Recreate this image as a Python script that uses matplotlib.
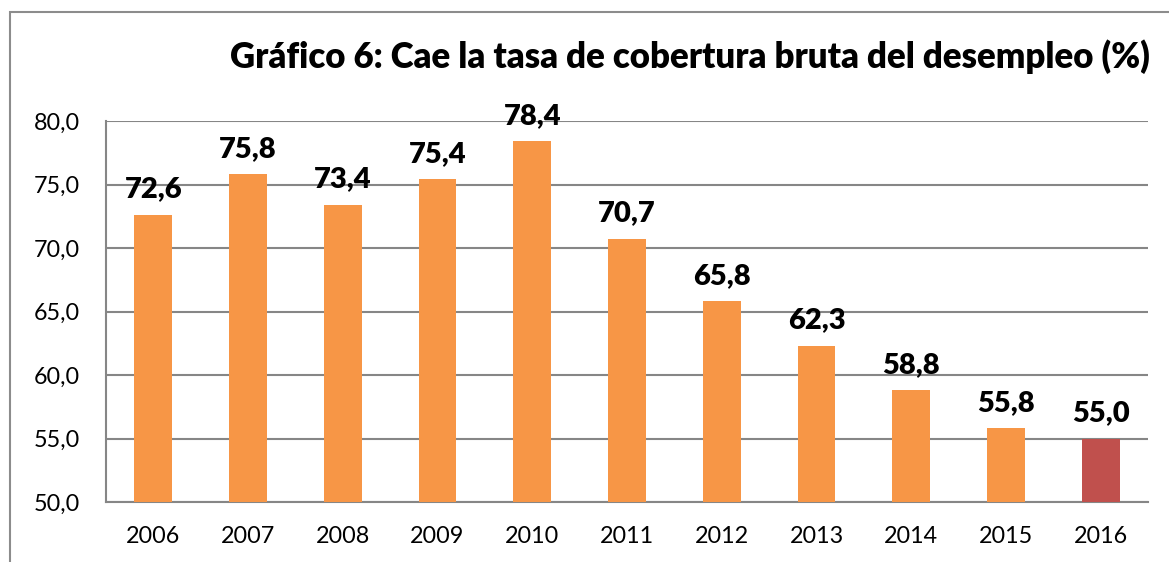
import matplotlib
matplotlib.use("Agg")
import matplotlib.pyplot as plt
from matplotlib.patches import Rectangle

years = ["2006", "2007", "2008", "2009", "2010", "2011", "2012", "2013", "2014", "2015", "2016"]
values = [72.6, 75.8, 73.4, 75.4, 78.4, 70.7, 65.8, 62.3, 58.8, 55.8, 55.0]
labels = ["72,6", "75,8", "73,4", "75,4", "78,4", "70,7", "65,8", "62,3", "58,8", "55,8", "55,0"]
yticks = [50, 55, 60, 65, 70, 75, 80]
ytick_labels = ["50,0", "55,0", "60,0", "65,0", "70,0", "75,0", "80,0"]
title = "Gráfico 6: Cae la tasa de cobertura bruta del desempleo (%)"

plt.rcParams['font.family'] = ['Lato', 'DejaVu Sans']

W, H = 1169, 562
fig = plt.figure(figsize=(W / 100, H / 100), dpi=100)
ax = fig.add_axes([106 / W, 1 - 502 / H, (1148 - 106) / W, (502 - 121) / H])

colors = ["#F79646"] * (len(years) - 1) + ["#C0504D"]
x = list(range(len(years)))
ax.bar(x, values, width=0.40, color=colors, bottom=0, zorder=3)
ax.set_ylim(50, 80)
ax.set_xlim(-0.5, len(years) - 0.5)
ax.set_yticks(yticks)
ax.set_yticklabels(ytick_labels)
ax.set_xticks(x)
ax.set_xticklabels(years)
ax.tick_params(axis='both', length=0, labelsize=16.8, colors='black')
ax.tick_params(axis='y', pad=19)
ax.tick_params(axis='x', pad=17)
ax.grid(axis='y', color='#868686', linewidth=1.5, zorder=0)
for s in ['top', 'right']:
    ax.spines[s].set_visible(False)
for s in ['left', 'bottom']:
    ax.spines[s].set_color('#868686')
    ax.spines[s].set_linewidth(1.5)

for xi, v, lab in zip(x, values, labels):
    ax.annotate(lab, (xi, v), xytext=(0, 9), textcoords='offset points',
                ha='center', va='bottom', fontsize=21, fontweight='heavy')

fig.text(690 / W, 1 - 57 / H, title, ha='center', va='center', fontsize=25, fontweight='heavy')

fig.patches.append(Rectangle((10 / W, -0.1), 1.2, 1 - 12 / H + 0.1, transform=fig.transFigure,
                             fill=False, edgecolor='#8c8c8c', linewidth=1.5))

fig.savefig("out.png", dpi=100)
